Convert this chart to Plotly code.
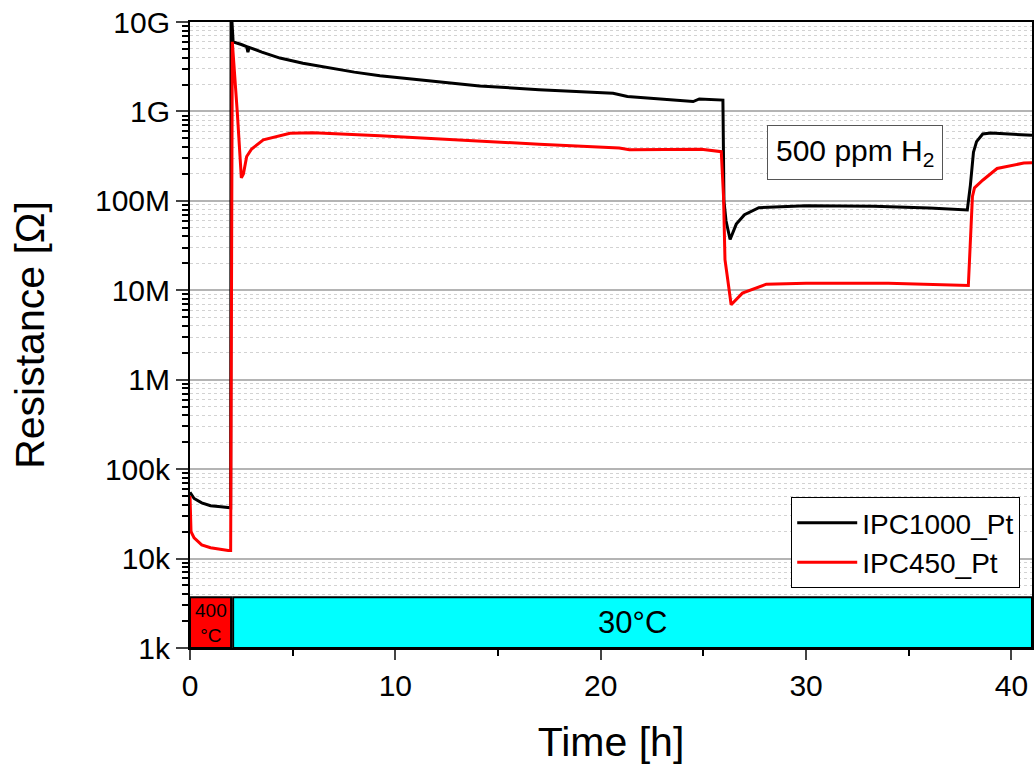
import plotly.graph_objects as go

# IPC1000_Pt (black)
t_black = [0.0, 0.2, 0.57, 1.0, 1.5, 1.98, 2.0, 2.03, 2.1, 2.5, 2.76, 2.82, 2.88, 3.5, 4.38, 5.5,
           6.81, 8.0, 9.25, 11.7, 14.1, 17.0, 20.6, 21.3, 23.0, 24.5, 24.8, 25.95, 26.0, 26.1,
           26.3, 26.6, 27.0, 27.7, 30.0, 33.3, 36.0, 37.85, 38.0, 38.15, 38.3, 38.6, 39.0, 41.0]
r_black = [55e3, 47e3, 42e3, 39e3, 38e3, 37e3, 1.5e10, 1.2e10, 6.0e9, 5.6e9, 5.3e9, 4.6e9, 5.2e9, 4.6e9,
           3.95e9, 3.45e9, 3.05e9, 2.75e9, 2.5e9, 2.2e9, 1.93e9, 1.75e9, 1.6e9, 1.47e9, 1.38e9, 1.29e9,
           1.38e9, 1.34e9, 1.0e8, 6.0e7, 3.7e7, 5.5e7, 7.0e7, 8.4e7, 8.8e7, 8.7e7, 8.3e7, 7.9e7, 1.5e8,
           3.5e8, 4.6e8, 5.6e8, 5.75e8, 5.4e8]

# IPC450_Pt (red)
t_red = [0.0, 0.05, 0.2, 0.57, 1.0, 1.5, 1.86, 1.98, 2.0, 2.06, 2.3, 2.5, 2.6, 2.76, 3.0, 3.57,
         4.87, 6.0, 9.25, 14.0, 17.0, 20.9, 21.4, 24.9, 25.87, 25.98, 26.05, 26.15, 26.35, 26.9,
         28.06, 30.0, 34.0, 37.9, 38.0, 38.1, 38.2, 38.6, 39.3, 40.6, 41.0]
r_red = [50e3, 20e3, 17e3, 14.2e3, 13.2e3, 12.6e3, 12.3e3, 12.3e3, 6.0e5, 6.0e9, 1.0e9, 1.81e8, 2.0e8,
         3.13e8, 3.8e8, 4.81e8, 5.71e8, 5.78e8, 5.33e8, 4.65e8, 4.3e8, 3.89e8, 3.72e8, 3.78e8, 3.55e8,
         1.11e8, 2.2e7, 1.5e7, 6.9e6, 9.3e6, 1.17e7, 1.2e7, 1.2e7, 1.13e7, 3.0e7, 1.12e8, 1.4e8, 1.7e8,
         2.3e8, 2.65e8, 2.66e8]

series_names = ["IPC1000_Pt", "IPC450_Pt"]
series_colors = ["black", "#ff0000"]

# Temperature bands
band_labels = ["400<br>°C", "30°C"]
band_starts = [0.0, 2.1]
band_ends = [2.0, 41.0]
band_colors = ["#ff0000", "#00ffff"]

annotation_text = "500 ppm H<sub>2</sub>"

FONT = "Liberation Sans, Arial, sans-serif"

fig = go.Figure()
fig.add_trace(go.Scatter(x=t_black, y=r_black, mode="lines", name=series_names[0],
                         line=dict(color=series_colors[0], width=3)))
fig.add_trace(go.Scatter(x=t_red, y=r_red, mode="lines", name=series_names[1],
                         line=dict(color=series_colors[1], width=3)))

band_top = 0.081  # paper fraction of the band height
for lbl, x0, x1, col, fs in zip(band_labels, band_starts, band_ends, band_colors, [19, 31]):
    fig.add_shape(type="rect", xref="x", yref="paper", x0=x0, x1=x1, y0=0, y1=band_top,
                  fillcolor=col, line=dict(color="black", width=2), layer="above")
    fig.add_annotation(xref="x", yref="paper", x=(x0 + x1) / 2, y=band_top / 2, text=lbl,
                       xanchor="center", yanchor="middle", showarrow=False,
                       font=dict(family=FONT, size=fs, color="black"))

fig.add_annotation(xref="x", yref="paper", x=32.4, y=0.792, text=annotation_text, showarrow=False,
                   xanchor="center", yanchor="middle",
                   font=dict(family=FONT, size=30, color="black"), bordercolor="#555555",
                   borderwidth=1, borderpad=8, bgcolor="white")

fig.update_layout(
    width=1034, height=767,
    margin=dict(l=190, r=2, t=22, b=119),
    paper_bgcolor="white", plot_bgcolor="white",
    font=dict(family=FONT, size=30, color="black"),
    legend=dict(x=0.986, y=0.241, xanchor="right", yanchor="top", bgcolor="white",
                bordercolor="black", borderwidth=1, font=dict(family=FONT, size=28),
                tracegroupgap=0, itemwidth=60),
)

fig.update_xaxes(range=[0, 41], dtick=10, tick0=0, ticks="outside", ticklen=10, tickwidth=2,
                 showline=True, linecolor="black", linewidth=2, mirror=True, showgrid=False,
                 zeroline=False, tickfont=dict(size=30), automargin=False,
                 minor=dict(dtick=5, ticks="outside", ticklen=6, tickwidth=2, tickcolor="black"),
                 title=dict(text="Time [h]", font=dict(size=41), standoff=26))

fig.update_yaxes(type="log", range=[3, 10], dtick=1, tickformat="~s", ticks="outside", ticklen=12,
                 tickwidth=2, showline=True, linecolor="black", linewidth=2, mirror=True,
                 showgrid=True, gridcolor="#b4b4b4", gridwidth=1.5, zeroline=False,
                 tickfont=dict(size=30), automargin=False,
                 minor=dict(dtick="D1", ticks="outside", ticklen=6, tickwidth=1.5, tickcolor="black",
                            showgrid=True, gridcolor="#d2d2d2", griddash="dot", gridwidth=1),
                 title=dict(text="Resistance [Ω]", font=dict(size=41), standoff=38))

fig.write_html("out.html", config={"displayModeBar": False},
               post_script="document.body.style.margin='0';document.body.style.overflow='hidden';")
